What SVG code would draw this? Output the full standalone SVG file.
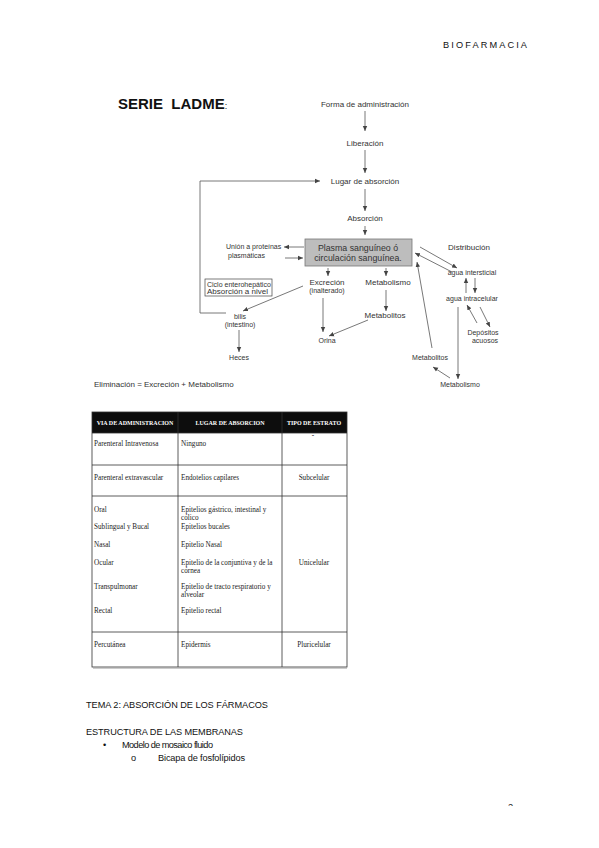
<svg xmlns="http://www.w3.org/2000/svg" width="599" height="848" viewBox="0 0 599 848">
<style>
.d{font-family:"Liberation Sans",Arial,sans-serif;fill:#333;font-size:8px}
.c{text-anchor:middle}
.m{font-size:8.8px}
.s{font-size:7px}
.ln{stroke:#555;stroke-width:0.8;fill:none}
.t{font-family:"Liberation Serif","Times New Roman",serif;font-size:7.2px;fill:#222}
.th{font-family:"Liberation Serif","Times New Roman",serif;font-size:6px;font-weight:bold;fill:#fff;text-anchor:middle}
.g{stroke:#333;stroke-width:0.8;fill:none}
.b{font-family:"Liberation Sans",Arial,sans-serif;font-size:9.2px;fill:#111}
</style>
<defs>
<marker id="ah" markerWidth="6" markerHeight="6" refX="5" refY="3" orient="auto" markerUnits="userSpaceOnUse">
<path d="M0,0.8 L5,3 L0,5.2 Z" fill="#444"/>
</marker>
<clipPath id="pg"><rect x="0" y="0" width="599" height="806"/></clipPath>
</defs>
<rect width="599" height="848" fill="#fff"/>

<text x="443" y="48" class="b" font-size="10.5" textLength="84">BIOFARMACIA</text>

<g id="title"><text x="118" y="109" font-family="Liberation Sans,Arial,sans-serif" font-size="15" font-weight="bold" fill="#111" xml:space="preserve">SERIE  LADME<tspan font-weight="normal" font-size="9">:</tspan></text></g>

<g id="forma"><text x="365" y="107" class="d c">Forma de administración</text></g>
<g id="liberacion"><text x="365" y="146" class="d c">Liberación</text></g>
<g id="lugar"><text x="365" y="184" class="d c">Lugar de absorción</text></g>
<g id="absorcion"><text x="365" y="221" class="d c">Absorción</text></g>
<g id="plasma">
<rect x="305" y="239" width="107" height="27" fill="#bdbdbd" stroke="#777" stroke-width="0.8"/>
<text x="358" y="251" class="d c m">Plasma sanguíneo ó</text>
<text x="358" y="261" class="d c m">circulación sanguínea.</text>
</g>
<g id="union"><text x="226" y="249" class="d s">Unión a proteínas</text><text x="228" y="258" class="d s">plasmáticas</text></g>
<g id="ciclo">
<rect x="205" y="279" width="67" height="17" fill="#fff" stroke="#444" stroke-width="0.7"/>
<text x="207" y="287" class="d s">Ciclo enterohepático</text>
<text x="207" y="294" class="d" font-size="4.8">Absorción a nivel</text>
</g>
<g id="excrecion"><text x="327" y="285" class="d c" font-size="9">Excreción</text><text x="327" y="293" class="d c s">(inalterado)</text></g>
<g id="metabolismo1"><text x="388" y="285" class="d c" font-size="9">Metabolismo</text></g>
<g id="metabolitos1"><text x="385" y="318" class="d c" font-size="6.5">Metabolitos</text></g>
<g id="orina"><text x="327" y="343" class="d c s">Orina</text></g>
<g id="bilis"><text x="240" y="319" class="d c s">bilis</text><text x="240" y="327" class="d c s">(intestino)</text></g>
<g id="heces"><text x="239" y="360" class="d c s">Heces</text></g>
<g id="distribucion"><text x="469" y="250" class="d c">Distribución</text></g>
<g id="intersticial"><text x="472" y="275" class="d c s">agua intersticial</text></g>
<g id="intracelular"><text x="472" y="301" class="d c s">agua intracelular</text></g>
<g id="depositos"><text x="483" y="335" class="d c s">Depósitos</text><text x="485" y="343" class="d c s">acuosos</text></g>
<g id="metabolitos2"><text x="430" y="360" class="d c s">Metabolitos</text></g>
<g id="metabolismo2"><text x="460" y="387" class="d c s">Metabolismo</text></g>
<g id="eliminacion"><text x="94" y="387" class="d" font-size="10.4">Eliminación = Excreción + Metabolismo</text></g>

<g id="connectors" class="ln">
<line x1="365" y1="111" x2="365" y2="131" marker-end="url(#ah)"/>
<line x1="365" y1="150" x2="365" y2="173" marker-end="url(#ah)"/>
<line x1="365" y1="189" x2="365" y2="211" marker-end="url(#ah)"/>
<line x1="365" y1="226" x2="365" y2="235" marker-end="url(#ah)"/>
<polyline points="226,313 200,313 200,181 320,181" marker-end="url(#ah)"/>
<line x1="304" y1="247" x2="284" y2="247" marker-end="url(#ah)"/>
<line x1="285" y1="258" x2="303" y2="258" marker-end="url(#ah)"/>
<line x1="328" y1="268" x2="328" y2="276" marker-end="url(#ah)"/>
<line x1="386" y1="268" x2="386" y2="276" marker-end="url(#ah)"/>
<line x1="386" y1="290" x2="386" y2="311" marker-end="url(#ah)"/>
<line x1="368" y1="320" x2="329" y2="336" marker-end="url(#ah)"/>
<line x1="323" y1="298" x2="323" y2="332" marker-end="url(#ah)"/>
<line x1="303" y1="286" x2="243" y2="311" marker-end="url(#ah)"/>
<line x1="239" y1="330" x2="239" y2="352" marker-end="url(#ah)"/>
<line x1="420" y1="247" x2="457" y2="268" marker-end="url(#ah)"/>
<line x1="452" y1="272" x2="415" y2="253" marker-end="url(#ah)"/>
<line x1="466" y1="293" x2="466" y2="278" marker-end="url(#ah)"/>
<line x1="475" y1="278" x2="475" y2="293" marker-end="url(#ah)"/>
<line x1="477" y1="323" x2="467" y2="305" marker-end="url(#ah)"/>
<line x1="480" y1="307" x2="490" y2="327" marker-end="url(#ah)"/>
<line x1="458" y1="307" x2="458" y2="379" marker-end="url(#ah)"/>
<line x1="450" y1="378" x2="433" y2="367" marker-end="url(#ah)"/>
<line x1="432" y1="348" x2="417" y2="262" marker-end="url(#ah)"/>
</g>

<g id="table">
<rect x="92" y="412" width="255" height="21" fill="#0d0d0d"/>
<text x="135" y="425" class="th">VIA DE ADMINISTRACION</text>
<text x="230" y="425" class="th">LUGAR DE ABSORCION</text>
<text x="314" y="425" class="th">TIPO DE ESTRATO</text>
<rect x="92" y="412" width="255" height="255" class="g"/>
<line x1="178" y1="412" x2="178" y2="667" class="g"/>
<line x1="282" y1="412" x2="282" y2="667" class="g"/>
<line x1="92" y1="433" x2="347" y2="433" class="g"/>
<line x1="92" y1="465" x2="347" y2="465" class="g"/>
<line x1="92" y1="496" x2="347" y2="496" class="g"/>
<line x1="92" y1="632" x2="347" y2="632" class="g"/>
<line x1="93" y1="668" x2="347" y2="668" stroke="#999" stroke-width="1"/>
<text x="94" y="446" class="t">Parenteral Intravenosa</text>
<text x="181" y="446" class="t">Ninguno</text>
<text x="313" y="438" class="t" text-anchor="middle">-</text>
<text x="94" y="480" class="t">Parenteral extravascular</text>
<text x="181" y="480" class="t">Endotelios capilares</text>
<text x="314" y="480" class="t" text-anchor="middle">Subcelular</text>
<text x="94" y="512" class="t">Oral</text>
<text x="181" y="512" class="t">Epitelios gástrico, intestinal y</text>
<text x="181" y="520" class="t">cólico</text>
<text x="94" y="529" class="t">Sublingual y Bucal</text>
<text x="181" y="529" class="t">Epitelios bucales</text>
<text x="94" y="547" class="t">Nasal</text>
<text x="181" y="547" class="t">Epitelio Nasal</text>
<text x="94" y="565" class="t">Ocular</text>
<text x="181" y="565" class="t">Epitelio de la conjuntiva y de la</text>
<text x="181" y="573" class="t">córnea</text>
<text x="314" y="565" class="t" text-anchor="middle">Unicelular</text>
<text x="94" y="589" class="t">Transpulmonar</text>
<text x="181" y="589" class="t">Epitelio de tracto respiratorio y</text>
<text x="181" y="597" class="t">alveolar</text>
<text x="94" y="613" class="t">Rectal</text>
<text x="181" y="613" class="t">Epitelio rectal</text>
<text x="94" y="647" class="t">Percutánea</text>
<text x="181" y="647" class="t">Epidermis</text>
<text x="314" y="647" class="t" text-anchor="middle">Pluricelular</text>
</g>

<text x="86" y="708" class="b" textLength="182">TEMA 2: ABSORCIÓN DE LOS FÁRMACOS</text>
<text x="86" y="735" class="b" textLength="157">ESTRUCTURA DE LAS MEMBRANAS</text>
<text x="103" y="748" class="b" font-size="12">•</text>
<text x="122" y="748" class="b" textLength="91">Modelo de mosaico fluido</text>
<text x="131" y="761" class="b">o</text>
<text x="158" y="761" class="b" textLength="87">Bicapa de fosfolípidos</text>
<text x="508" y="810" class="b" font-size="11" clip-path="url(#pg)">2</text>
</svg>
